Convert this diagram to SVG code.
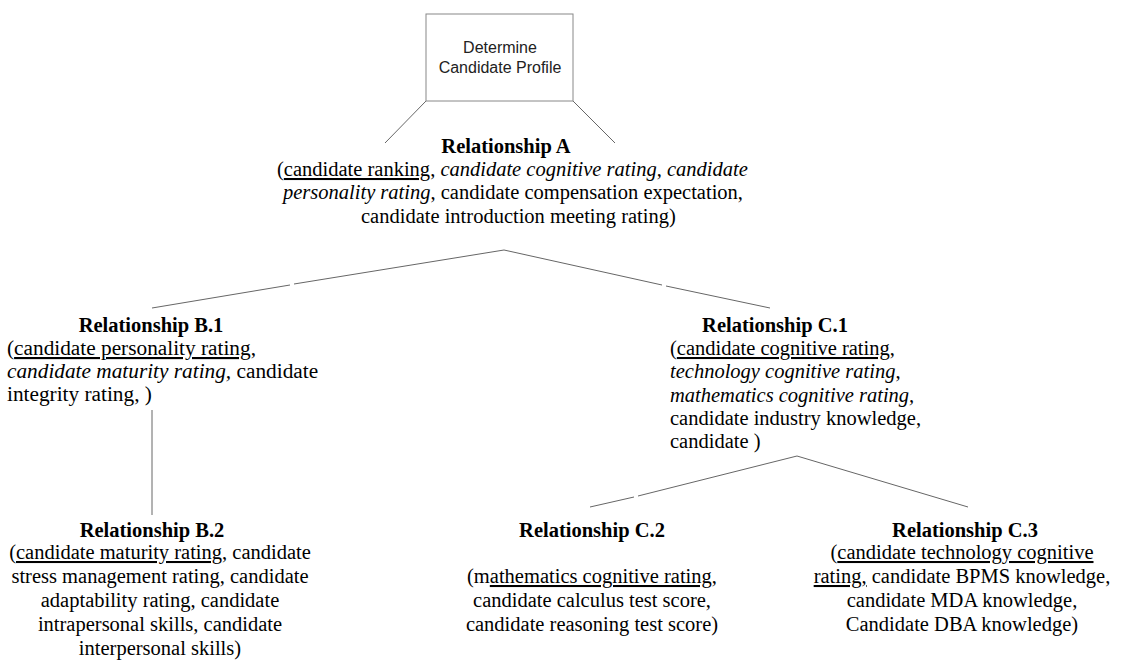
<svg xmlns="http://www.w3.org/2000/svg" width="1121" height="660" viewBox="0 0 1121 660">
<style>
.t{font-family:"Liberation Serif","Times New Roman",serif;font-size:20.5px;fill:#000}
.lg{font-size:21.3px}
.b{font-weight:bold}
.i{font-style:italic}
.u{text-decoration:underline}
.m{text-anchor:middle}
.ln{stroke:#666;stroke-width:1;fill:none}
.box{fill:#fff;stroke:#888;stroke-width:1}
.bt{font-family:"Liberation Sans",Arial,sans-serif;font-size:16px;fill:#222;text-anchor:middle}
</style>
<rect width="1121" height="660" fill="#fff"/>
<g id="connectors">
<line class="ln" x1="426" y1="101" x2="385" y2="143"/>
<line class="ln" x1="573" y1="101" x2="615" y2="143"/>
<line class="ln" x1="504" y1="250" x2="294" y2="284"/>
<line class="ln" x1="290" y1="285" x2="152" y2="308"/>
<line class="ln" x1="504" y1="250" x2="662" y2="285"/>
<line class="ln" x1="666" y1="286" x2="770" y2="308"/>
<line class="ln" x1="152" y1="410" x2="152" y2="515"/>
<line class="ln" x1="797" y1="456" x2="638" y2="496"/>
<line class="ln" x1="634" y1="497" x2="590" y2="507"/>
<line class="ln" x1="797" y1="456" x2="968" y2="507"/>
</g>
<g id="root">
<rect class="box" x="426" y="14" width="147" height="87"/>
<text class="bt" x="500" y="53">Determine</text>
<text class="bt" x="500" y="73">Candidate Profile</text>
</g>
<g id="relA">
<text class="t b m" x="506" y="153">Relationship A</text>
<text class="t" x="277" y="176">(<tspan class="u">candidate ranking</tspan>, <tspan class="i">candidate cognitive rating</tspan>, <tspan class="i">candidate</tspan></text>
<text class="t" x="283" y="199"><tspan class="i">personality rating</tspan>, candidate compensation expectation,</text>
<text class="t" x="361" y="223">candidate introduction meeting rating)</text>
</g>
<g id="relB1">
<text class="t b m" x="151" y="332">Relationship B.1</text>
<text class="t lg" x="7" y="355">(<tspan class="u">candidate personality rating</tspan>,</text>
<text class="t lg" x="7" y="378"><tspan class="i">candidate maturity rating,</tspan> candidate</text>
<text class="t lg" x="7" y="401">integrity rating, )</text>
</g>
<g id="relC1">
<text class="t b m" x="775" y="332">Relationship C.1</text>
<text class="t" x="670" y="355">(<tspan class="u">candidate cognitive rating</tspan>,</text>
<text class="t" x="670" y="378"><tspan class="i">technology cognitive rating</tspan>,</text>
<text class="t" x="670" y="402"><tspan class="i">mathematics cognitive rating,</tspan></text>
<text class="t" x="670" y="425">candidate industry knowledge,</text>
<text class="t" x="670" y="448">candidate )</text>
</g>
<g id="relB2">
<text class="t b m" x="152" y="537">Relationship B.2</text>
<text class="t m" x="160" y="559">(<tspan class="u">candidate maturity rating</tspan>, candidate</text>
<text class="t m" x="160" y="583">stress management rating, candidate</text>
<text class="t m" x="160" y="607">adaptability rating, candidate</text>
<text class="t m" x="160" y="631">intrapersonal skills, candidate</text>
<text class="t m" x="160" y="655">interpersonal skills)</text>
</g>
<g id="relC2">
<text class="t b m" x="592" y="537">Relationship C.2</text>
<text class="t m" x="592" y="583">(m<tspan class="u">athematics cognitive rating</tspan>,</text>
<text class="t m" x="592" y="607">candidate calculus test score,</text>
<text class="t m" x="592" y="631">candidate reasoning test score)</text>
</g>
<g id="relC3">
<text class="t b m" x="965" y="537">Relationship C.3</text>
<text class="t m" x="962" y="559">(<tspan class="u">candidate technology cognitive</tspan></text>
<text class="t m" x="962" y="583"><tspan class="u">rating,</tspan> candidate BPMS knowledge,</text>
<text class="t m" x="962" y="607">candidate MDA knowledge,</text>
<text class="t m" x="962" y="631">Candidate DBA knowledge)</text>
</g>
</svg>
